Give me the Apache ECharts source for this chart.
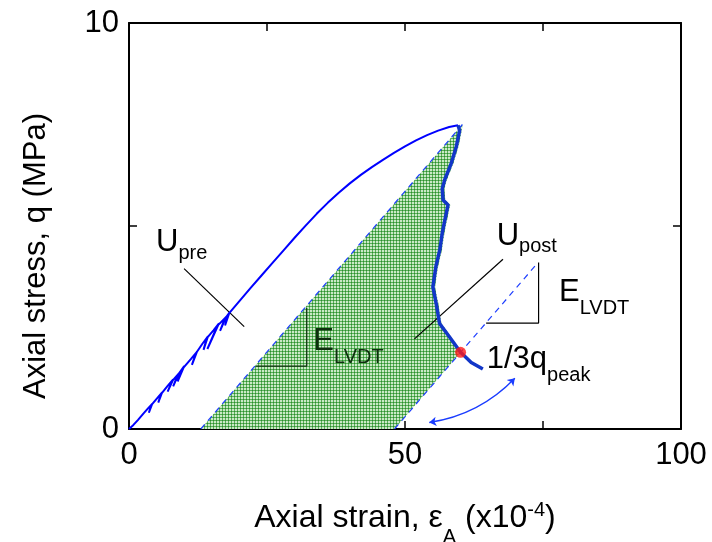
<!DOCTYPE html>
<html>
<head>
<meta charset="utf-8">
<script src="https://cdn.jsdelivr.net/npm/echarts@6/dist/echarts.min.js"></script>
<style>
  html, body { margin: 0; padding: 0; background: #fff; }
  #chart { width: 712px; height: 542px; }
</style>
</head>
<body>
<div id="chart"></div>
<script>
const FONT = '"Liberation Sans", Arial, Helvetica, sans-serif';

// Axis ranges and tick labels (strain in 1e-4, stress in MPa)
const xRange = [0, 100];
const yRange = [0, 10];
const xTickLabels = { 0: '0', 50: '50', 100: '100' };
const yTickLabels = { 0: '0', 10: '10' };

// Loading branch up to the peak, with the small unload/reload cycles near the origin
const prePeak = [
  [0, 0], [0.8, 0.1], [1.6, 0.22], [2.6, 0.38], [3.4, 0.5], [4.2, 0.62],
  [3.6, 0.40], [4.0, 0.58], [5.0, 0.74], [6.0, 0.9],
  [5.3, 0.65], [5.8, 0.86], [7.0, 1.06], [8.0, 1.22],
  [7.0, 0.92], [7.8, 1.18], [9.0, 1.36],
  [8.0, 1.05], [8.8, 1.32], [10.0, 1.55],
  [8.8, 1.17], [9.8, 1.5], [11.2, 1.72], [12.3, 1.9],
  [11.4, 1.58], [12.1, 1.86], [13.3, 2.1], [14.3, 2.28],
  [13.5, 1.95], [14.1, 2.24], [15.3, 2.43], [16.3, 2.6],
  [14.2, 1.97], [16.0, 2.54], [17.6, 2.76],
  [16.5, 2.42], [17.3, 2.7], [18.2, 2.87],
  [17.4, 2.55], [18.0, 2.83], [20.0, 3.15], [22.0, 3.47], [24.0, 3.78],
  [26.0, 4.09], [28.0, 4.4], [30.0, 4.71], [32.0, 5.01], [34.0, 5.3],
  [36.0, 5.57], [38.0, 5.82], [40.0, 6.05], [42.0, 6.26], [44.0, 6.45],
  [46.0, 6.63], [48.0, 6.8], [50.0, 6.96], [52.0, 7.11], [54.0, 7.24],
  [56.0, 7.35], [58.0, 7.44], [59.6, 7.48]
];

// Softening branch after the peak
const postPeak = [
  [59.6, 7.48], [59.9, 7.35], [59.3, 6.96], [58.4, 6.55], [57.2, 6.14],
  [56.75, 5.92], [56.9, 5.64], [57.8, 5.52], [57.35, 5.23], [56.75, 4.83],
  [56.3, 4.41], [55.6, 4.0], [55.05, 3.5], [55.65, 3.09], [56.26, 2.6],
  [58.1, 2.26], [60.07, 1.89], [62.0, 1.64], [64.1, 1.48]
];

// Elastic unloading lines with slope E_LVDT
const unloadAtPeak = [[13.0, 0], [60.4, 7.5]];
const unloadAtThird = [[48.1, 0], [74.1, 4.1]];

// Point where the stress drops to one third of the peak
const thirdPeakPoint = [[60.07, 1.89]];

// Outline of the shaded post-peak energy region
const postEnergyArea = [
  [13.0, 0], [60.4, 7.5], [60.3, 7.35], [59.7, 6.96], [58.8, 6.55],
  [57.6, 6.14], [57.15, 5.92], [57.3, 5.64], [58.2, 5.52], [57.75, 5.23],
  [57.15, 4.83], [56.7, 4.41], [56.0, 4.0], [55.45, 3.5], [56.05, 3.09],
  [56.6, 2.6], [58.4, 2.26], [60.07, 1.89], [48.1, 0]
];

// Leader lines and slope triangles
const leaderPre = [[9.98, 3.95], [20.87, 2.52]];
const leaderPost = [[67.75, 4.18], [51.72, 2.22]];
const triangleLeft = [[23.0, 1.55], [32.2, 1.55], [32.2, 2.98]];
const triangleRight = [[64.7, 2.61], [74.2, 2.61], [74.2, 4.1]];
const arrowThird = [[69.9, 1.25], [54.4, 0.16]];

// Text annotations: baseline-left anchor in data units
const notes = [
  { at: [4.9, 4.33], main: 'U', sub: 'pre', drop: 7, color: '#000' },
  { at: [66.6, 4.49], main: 'U', sub: 'post', drop: 7, color: '#000' },
  { at: [33.4, 1.9], main: 'E', sub: 'LVDT', drop: 13, color: '#0e2e0e' },
  { at: [77.9, 3.1], main: 'E', sub: 'LVDT', drop: 12, color: '#000' },
  { at: [64.8, 1.45], main: '1/3q', sub: 'peak', drop: 12, color: '#000' }
];

function hatchPattern() {
  const c = document.createElement('canvas');
  c.width = 3; c.height = 3;
  const g = c.getContext('2d');
  g.fillStyle = '#cae8c6';
  g.fillRect(0, 0, 3, 3);
  g.fillStyle = '#58b058';
  g.fillRect(0, 0, 3, 1);
  g.fillRect(0, 0, 1, 3);
  g.fillStyle = '#2d8a2d';
  g.fillRect(0, 0, 1, 1);
  return c;
}

const chart = echarts.init(document.getElementById('chart'), null, { renderer: 'canvas' });

const blackThin = { color: '#000', width: 1.2 };
function plainLine(data, style, z) {
  return {
    type: 'line', data, showSymbol: false, symbol: 'none', silent: true,
    lineStyle: style, z: z || 3, animation: false
  };
}

const axisCommon = {
  type: 'value',
  axisLine: { show: true, onZero: false, lineStyle: { color: '#000', width: 2 } },
  axisTick: { show: true, inside: true, length: 8, lineStyle: { color: '#000', width: 1.5 } },
  splitLine: { show: false }
};

chart.setOption({
  animation: false,
  backgroundColor: '#fff',
  grid: {
    left: 129, right: 31, top: 23, bottom: 113,
    containLabel: false, outerBoundsMode: 'none'
  },
  xAxis: [
    Object.assign({}, axisCommon, {
      min: xRange[0], max: xRange[1], interval: 25, position: 'bottom',
      axisLabel: {
        formatter: v => xTickLabels[v] || '', fontSize: 31, color: '#000',
        fontFamily: FONT, margin: 11, showMinLabel: true, showMaxLabel: true
      },
      name: '{m|Axial strain, ε}{s|A}{m| (x10}{p|-4}{m|)}',
      nameLocation: 'middle', nameGap: 71,
      nameTextStyle: {
        fontFamily: FONT, color: '#000',
        rich: {
          m: { fontSize: 32, lineHeight: 32, fontFamily: FONT, color: '#000', verticalAlign: 'top', padding: [2, 0, 0, 0] },
          s: { fontSize: 20, lineHeight: 20, fontFamily: FONT, color: '#000', verticalAlign: 'top', padding: [27, 0, 0, 0] },
          p: { fontSize: 20, lineHeight: 20, fontFamily: FONT, color: '#000', verticalAlign: 'top', padding: [0, 0, 0, 0] }
        }
      }
    }),
    Object.assign({}, axisCommon, {
      min: xRange[0], max: xRange[1], interval: 25, position: 'top',
      axisLabel: { show: false }
    })
  ],
  yAxis: [
    Object.assign({}, axisCommon, {
      min: yRange[0], max: yRange[1], interval: 5, position: 'left',
      axisLabel: {
        formatter: v => yTickLabels[v] || '', fontSize: 31, color: '#000',
        fontFamily: FONT, margin: 10, showMinLabel: true, showMaxLabel: true
      }
    }),
    Object.assign({}, axisCommon, {
      min: yRange[0], max: yRange[1], interval: 5, position: 'right',
      axisLabel: { show: false }
    })
  ],
  series: [
    {
      type: 'custom', silent: true, z: 1, animation: false,
      data: [[0, 0]],
      renderItem: (params, api) => ({
        type: 'polygon',
        shape: { points: postEnergyArea.map(p => api.coord(p)) },
        style: { fill: { image: hatchPattern(), repeat: 'repeat' }, stroke: null }
      })
    },
    plainLine(unloadAtPeak, { color: '#1f3fff', width: 1.2, type: [6, 5] }, 2),
    plainLine(unloadAtThird, { color: '#1f3fff', width: 1.2, type: [6, 5] }, 2),
    plainLine(leaderPre, blackThin, 2),
    plainLine(leaderPost, blackThin, 2),
    plainLine(triangleLeft, { color: '#0e2e0e', width: 1.2 }, 2),
    plainLine(triangleRight, blackThin, 2),
    plainLine(prePeak, { color: '#0000ff', width: 2 }, 3),
    plainLine(postPeak, { color: '#1236c8', width: 3.5, join: 'round' }, 4),
    {
      type: 'lines', coordinateSystem: 'cartesian2d', silent: true, z: 3, animation: false,
      symbol: ['arrow', 'arrow'], symbolSize: 7,
      lineStyle: { color: '#1a3cff', width: 1.3, opacity: 1, curveness: 0.17 },
      data: [{ coords: arrowThird }]
    },
    {
      type: 'scatter', data: thirdPeakPoint, symbol: 'circle', symbolSize: 11,
      itemStyle: { color: '#ff1a1a' }, z: 5, silent: true, animation: false
    }
  ]
});

// Text annotations placed from data anchors
const MAIN = 31, SUB = 20;
const graphics = notes.map(n => {
  const px = chart.convertToPixel({ gridIndex: 0 }, n.at);
  const top = px[1] - (MAIN / 2 + 0.3465 * MAIN);
  const subPad = (MAIN / 2 + 0.3465 * MAIN) + n.drop - (SUB / 2 + 0.3465 * SUB);
  return {
    type: 'text', x: px[0], y: top, silent: true, z: 10,
    style: {
      text: '{m|' + n.main + '}{s|' + n.sub + '}',
      align: 'left', verticalAlign: 'top',
      rich: {
        m: { fontSize: MAIN, lineHeight: MAIN, fontFamily: FONT, fill: n.color, verticalAlign: 'top' },
        s: { fontSize: SUB, lineHeight: SUB, fontFamily: FONT, fill: n.color, verticalAlign: 'top', padding: [subPad, 0, 0, 0] }
      }
    }
  };
});

graphics.push({
  type: 'text', x: 36, y: 256, rotation: Math.PI / 2, silent: true,
  style: {
    text: 'Axial stress, q (MPa)', font: '31px ' + FONT, fill: '#000',
    align: 'center', verticalAlign: 'middle'
  }
});

chart.setOption({ graphic: graphics });
</script>
</body>
</html>
